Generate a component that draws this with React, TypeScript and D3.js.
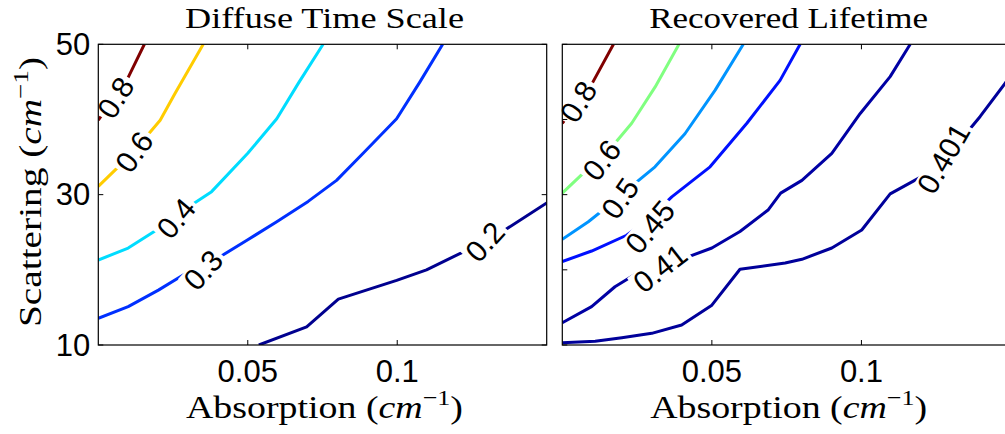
import React from 'react';
import * as d3 from 'd3';

type Pt = [number, number];

// axis ticks
const xTicks = [0.05, 0.1];
const xTickLabels = ['0.05', '0.1'];
const yTicksLeft = [10, 30, 50];
const yTickLabelsLeft = ['10', '30', '50'];
const yTicksRight = [10, 20, 30, 40, 50];

// Diffuse Time Scale contours: [absorption, scattering]
const diffuseLevels = ['0.2', '0.3', '0.4', '0.6', '0.8'];
const diffuse02: Pt[] = [[0.0537, 10], [0.0697, 12.4], [0.0803, 16.1], [0.0998, 18.6], [0.1098, 20], [0.1232, 22.6], [0.136, 25.3], [0.15, 28.9]];
const diffuse03: Pt[] = [[0, 13.55], [0.01, 15.1], [0.0201, 17.3], [0.0284, 19.3], [0.0418, 22.0], [0.05, 24.0], [0.0597, 26.4], [0.0702, 29.1], [0.0797, 31.9], [0.0886, 35.5], [0.0998, 40.1], [0.1076, 45.0], [0.1152, 50]];
const diffuse04: Pt[] = [[0, 21.3], [0.01, 22.9], [0.0195, 25.3], [0.0318, 28.8], [0.0379, 30.4], [0.05, 35.5], [0.0597, 40.1], [0.0669, 44.8], [0.0752, 50]];
const diffuse06: Pt[] = [[0, 31.1], [0.008, 34.2], [0.0156, 37.5], [0.0207, 39.9], [0.0257, 43.5], [0.0351, 50]];
const diffuse08: Pt[] = [[0, 39.9], [0.01, 45.6], [0.0154, 50]];
// where the contour labels sit
const diffuseLabelAt: Pt[] = [[0.1293, 23.74], [0.0351, 19.97], [0.026, 26.85], [0.012, 35.7], [0.0058, 42.9]];

// Recovered Lifetime contours
const lifetimeLevels = ['0.401', '0.41', '0.45', '0.5', '0.6', '0.8'];
const life0401: Pt[] = [[0, 10.3], [0.011, 10.5], [0.0199, 10.97], [0.0299, 11.55], [0.0399, 12.66], [0.05, 15.3], [0.0594, 20.07], [0.0745, 20.9], [0.0801, 21.4], [0.0901, 22.9], [0.1001, 25.3], [0.1096, 30.1], [0.1219, 32.8], [0.1341, 37.7], [0.1397, 40.4], [0.148, 44.8], [0.15, 45.9]];
const life041: Pt[] = [[0, 12.97], [0.0098, 15.1], [0.0176, 17.75], [0.024, 19.3], [0.03, 20.6], [0.0416, 21.66], [0.05, 22.9], [0.0594, 25.1], [0.0689, 28.0], [0.073, 30.2], [0.0801, 31.9], [0.0901, 35.5], [0.0996, 40.8], [0.1096, 45.7], [0.1163, 50]];
const life045: Pt[] = [[0, 21.1], [0.0098, 22.5], [0.0215, 24.6], [0.029, 26.8], [0.0366, 29.7], [0.0494, 33.7], [0.0617, 39.5], [0.0728, 45.2], [0.0795, 50]];
const life05: Pt[] = [[0, 24.05], [0.0087, 26.4], [0.016, 28.7], [0.0243, 31.5], [0.031, 33.7], [0.041, 38.1], [0.0511, 43.9], [0.0605, 50]];
const life06: Pt[] = [[0, 30.2], [0.0087, 33.5], [0.0171, 36.6], [0.0232, 39.5], [0.031, 44.3], [0.039, 50]];
const life08: Pt[] = [[0, 39.5], [0.0093, 44.3], [0.0171, 50]];
const lifetimeLabelAt: Pt[] = [[0.1274, 34.8], [0.0327, 20.2], [0.0293, 25.7], [0.0193, 29.5], [0.0132, 34.6], [0.0054, 42.35]];

// styling (jet colours, label rotation in degrees)
const diffuseColors = ['#00008f', '#0030ff', '#00dcff', '#ffcc00', '#800000'];
const diffuseAngles = [-48, -48, -50, -55, -58];
const lifetimeColors = ['#00009a', '#0000a4', '#0010ff', '#0094ff', '#80ff80', '#800000'];
const lifetimeAngles = [-60, -38, -50, -55, -52, -58];

const W = 1005;
const H = 434;
const plotTop = 44.3;
const plotBottom = 345;
const tickLen = 5;
const labelSize = 30;
const serif = '"Liberation Serif", "DejaVu Serif", serif';
const sans = '"Liberation Sans", Arial, sans-serif';

const panels = [
  {
    key: 'diffuse',
    title: 'Diffuse Time Scale',
    x0: 98.3,
    x1: 546.7,
    yTicks: yTicksLeft,
    yLabels: yTickLabelsLeft,
    levels: diffuseLevels,
    lines: [diffuse02, diffuse03, diffuse04, diffuse06, diffuse08],
    labelAt: diffuseLabelAt,
    colors: diffuseColors,
    angles: diffuseAngles,
  },
  {
    key: 'lifetime',
    title: 'Recovered Lifetime',
    x0: 562.3,
    x1: 1011,
    yTicks: yTicksRight,
    yLabels: null,
    levels: lifetimeLevels,
    lines: [life0401, life041, life045, life05, life06, life08],
    labelAt: lifetimeLabelAt,
    colors: lifetimeColors,
    angles: lifetimeAngles,
  },
];

const labelWidth = (s: string) =>
  s.split('').reduce((w, c) => w + (c === '.' ? 0.278 : 0.556), 0) * labelSize + 6;

const AxisTitle = ({ x, y, text, width, rotate = 0 }: any) => (
  <text
    x={x}
    y={y}
    transform={rotate ? `rotate(${rotate},${x},${y})` : undefined}
    textAnchor="middle"
    fontFamily={serif}
    fontSize={32}
    textLength={width}
    lengthAdjust="spacingAndGlyphs"
  >
    {text + ' ('}
    <tspan fontStyle="italic">cm</tspan>
    <tspan fontSize={22} dy={-13}>−1</tspan>
    <tspan dy={13}>)</tspan>
  </text>
);

const Panel = ({ p }: any) => {
  const x = d3.scaleLinear().domain([0, 0.15]).range([p.x0, p.x1]);
  const y = d3.scaleLinear().domain([10, 50]).range([plotBottom, plotTop]);
  const line = d3.line<Pt>().x(d => x(d[0])).y(d => y(d[1]));
  const clipId = `clip-${p.key}`;
  const cx = (p.x0 + p.x1) / 2;

  return (
    <g>
      <defs>
        <clipPath id={clipId}>
          <rect x={p.x0} y={plotTop} width={p.x1 - p.x0} height={plotBottom - plotTop} />
        </clipPath>
        {p.levels.map((lv: string, i: number) => {
          const [lx, ly] = p.labelAt[i];
          return (
            <mask id={`mask-${p.key}-${i}`} key={lv} maskUnits="userSpaceOnUse" x={0} y={0} width={W} height={H}>
              <rect x={0} y={0} width={W} height={H} fill="white" />
              <rect
                x={-labelWidth(lv) / 2}
                y={-labelSize * 0.42}
                width={labelWidth(lv)}
                height={labelSize * 0.84}
                fill="black"
                transform={`translate(${x(lx)},${y(ly)}) rotate(${p.angles[i]})`}
              />
            </mask>
          );
        })}
      </defs>

      {/* contour lines */}
      <g clipPath={`url(#${clipId})`}>
        {p.lines.map((pts: Pt[], i: number) => (
          <path
            key={i}
            d={line(pts) || ''}
            fill="none"
            stroke={p.colors[i]}
            strokeWidth={3}
            strokeLinejoin="round"
            mask={`url(#mask-${p.key}-${i})`}
          />
        ))}
      </g>

      {/* contour labels */}
      {p.levels.map((lv: string, i: number) => {
        const [lx, ly] = p.labelAt[i];
        return (
          <text
            key={lv}
            transform={`translate(${x(lx)},${y(ly)}) rotate(${p.angles[i]})`}
            textAnchor="middle"
            dominantBaseline="central"
            fontFamily={sans}
            fontSize={labelSize}
          >
            {lv}
          </text>
        );
      })}

      {/* box */}
      <rect x={p.x0} y={plotTop} width={p.x1 - p.x0} height={plotBottom - plotTop} fill="none" stroke="#000" strokeWidth={1.2} />

      {/* x ticks */}
      {xTicks.map((t, i) => (
        <g key={t}>
          <line x1={x(t)} x2={x(t)} y1={plotBottom} y2={plotBottom - tickLen} stroke="#000" />
          <line x1={x(t)} x2={x(t)} y1={plotTop} y2={plotTop + tickLen} stroke="#000" />
          <text x={x(t)} y={382} textAnchor="middle" fontFamily={sans} fontSize={31}>
            {xTickLabels[i]}
          </text>
        </g>
      ))}

      {/* y ticks */}
      {p.yTicks.map((t: number, i: number) => (
        <g key={t}>
          <line x1={p.x0} x2={p.x0 + tickLen} y1={y(t)} y2={y(t)} stroke="#000" />
          <line x1={p.x1} x2={p.x1 - tickLen} y1={y(t)} y2={y(t)} stroke="#000" />
          {p.yLabels && (
            <text x={p.x0 - 8} y={y(t)} textAnchor="end" dominantBaseline="central" fontFamily={sans} fontSize={31}>
              {p.yLabels[i]}
            </text>
          )}
        </g>
      ))}

      {/* title */}
      <text x={cx + 2} y={28} textAnchor="middle" fontFamily={serif} fontSize={30} textLength={279} lengthAdjust="spacingAndGlyphs">
        {p.title}
      </text>

      <AxisTitle x={cx + 2} y={418} text="Absorption" width={277} />
    </g>
  );
};

export default function App() {
  return (
    <svg
      width={W}
      height={H}
      viewBox={`0 0 ${W} ${H}`}
      style={{ position: 'absolute', left: 0, top: 0, background: '#fff', overflow: 'hidden' }}
    >
      <rect x={0} y={0} width={W} height={H} fill="#fff" />
      {panels.map(p => (
        <Panel key={p.key} p={p} />
      ))}
      <AxisTitle x={41} y={192} text="Scattering" width={270} rotate={-90} />
    </svg>
  );
}
